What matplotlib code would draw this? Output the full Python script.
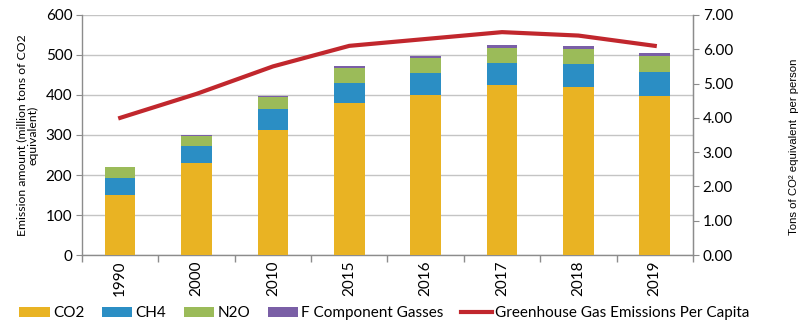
import numpy as np
import matplotlib.pyplot as plt
from matplotlib.ticker import FixedLocator, FormatStrFormatter

plt.rcParams['font.family'] = ['Lato', 'DejaVu Sans']

years = ['1990', '2000', '2010', '2015', '2016', '2017', '2018', '2019']
co2 = [150, 230, 313, 381, 400, 425, 419, 398]
ch4 = [43, 43, 53, 50, 54, 54, 58, 60]
n2o = [26, 25, 28, 37, 39, 39, 39, 40]
f_gas = [2, 2, 4, 4, 5, 6, 6, 6]
per_capita = [4.0, 4.7, 5.5, 6.1, 6.3, 6.5, 6.4, 6.1]

grey = '#8c8c8c'
x = np.arange(len(years))

fig = plt.figure(figsize=(8.01, 3.23), dpi=100)
ax = fig.add_axes([0.1024, 0.2105, 0.7627, 0.7431])

bottom = np.zeros(len(years))
series = [(co2, '#E9B323', 'CO2'), (ch4, '#2B8EC4', 'CH4'),
          (n2o, '#9BBB59', 'N2O'), (f_gas, '#7A5FA6', 'F Component Gasses')]
handles = []
for vals, col, lab in series:
    b = ax.bar(x, vals, width=0.4, bottom=bottom, color=col, label=lab, zorder=3)
    handles.append(b)
    bottom += np.array(vals)

ax.set_xlim(-0.5, len(years) - 0.5)
ax.set_ylim(0, 600)
ax.set_yticks(range(0, 601, 100))
ax.grid(axis='y', color='#c4c4c4', linewidth=1, zorder=0)
ax.set_axisbelow(True)

ax.set_xticks(x)
ax.set_xticklabels(years, rotation=90, fontsize=11)
ax.xaxis.set_minor_locator(FixedLocator(np.arange(-0.5, len(years), 1)))
ax.tick_params(axis='x', which='major', length=0, pad=4)
ax.tick_params(axis='x', which='minor', length=5, color=grey, width=1)
ax.tick_params(axis='y', length=4, color=grey, labelsize=11, pad=3)

ax.spines['top'].set_visible(False)
for side in ['left', 'bottom', 'right']:
    ax.spines[side].set_color(grey)
    ax.spines[side].set_linewidth(1)

ax.set_ylabel('Emission amount (million tons of CO2\nequivalent)', fontsize=8.8,
              linespacing=1.0)
ax.yaxis.set_label_coords(-0.072, 0.5)

ax2 = ax.twinx()
line, = ax2.plot(x, per_capita, color='#C1272D', linewidth=3,
                 label='Greenhouse Gas Emissions Per Capita', zorder=4)
ax2.set_ylim(0, 7)
ax2.set_yticks(range(0, 8))
ax2.yaxis.set_major_formatter(FormatStrFormatter('%.2f'))
ax2.tick_params(axis='y', length=4, color=grey, labelsize=11, pad=3)
for side in ['top', 'left', 'bottom']:
    ax2.spines[side].set_visible(False)
ax2.spines['right'].set_color(grey)
ax2.set_ylabel('Tons of CO² equivalent  per person', fontsize=8.2,
               family=['Liberation Sans', 'DejaVu Sans'])
ax2.yaxis.set_label_coords(1.158, 0.45)

fig.legend(handles + [line], [h.get_label() for h in handles] + [line.get_label()],
           loc='center left', bbox_to_anchor=(0.024, 0.03), ncol=5, frameon=False,
           fontsize=11, handlelength=2.0, handleheight=0.65, handletextpad=0.2,
           columnspacing=1.15, borderaxespad=0, borderpad=0)

fig.savefig('out.png', dpi=100)
